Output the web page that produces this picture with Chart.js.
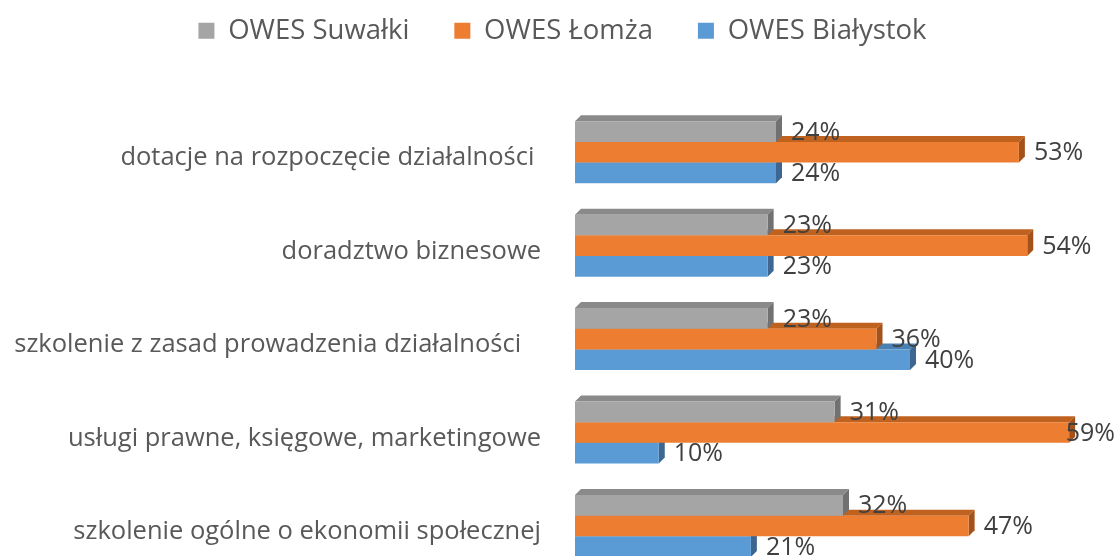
<!DOCTYPE html>
<html>
<head>
<meta charset="utf-8">
<script src="https://cdn.jsdelivr.net/npm/chart.js@4"></script>
<style>
  html, body { margin: 0; padding: 0; overflow: hidden; background: #fff; }
  #wrap { width: 1118px; height: 614px; }
</style>
</head>
<body>
<div id="wrap"><canvas id="chart"></canvas></div>
<script>
// trailing spaces are in the source labels (Excel right-aligns them)
const categories = [
  "dotacje na rozpoczęcie działalności ",
  "doradztwo biznesowe",
  "szkolenie z zasad prowadzenia działalności   ",
  "usługi prawne, księgowe, marketingowe",
  "szkolenie ogólne o ekonomii społecznej"
];
const seriesNames = ["OWES Suwałki", "OWES Łomża", "OWES Białystok"];
const suwalki = [24, 23, 23, 31, 32];
const lomza = [53, 54, 36, 59, 47];
const bialystok = [24, 23, 40, 10, 21];
const xMax = 64;

const faceColors = [
  { front: "#A5A5A5", top: "#8A8A8A", side: "#717171" },
  { front: "#ED7D31", top: "#C0621F", side: "#A5521A" },
  { front: "#5B9BD5", top: "#4A80B2", side: "#3D6791" }
];

const DEPTH = 6;

// fake 3D: top and right faces, drawn behind the fronts (bottom series first)
const depthFaces = {
  id: "depthFaces",
  beforeDatasetsDraw(chart) {
    const ctx = chart.ctx;
    ctx.save();
    for (let d = chart.data.datasets.length - 1; d >= 0; d--) {
      const c = faceColors[d];
      chart.getDatasetMeta(d).data.forEach((bar) => {
        const { x, y, base, height } = bar.getProps(["x", "y", "base", "height"], true);
        const x0 = base, x1 = x, y0 = y - height / 2, y1 = y + height / 2;
        ctx.fillStyle = c.top;
        ctx.beginPath();
        ctx.moveTo(x0, y0);
        ctx.lineTo(x0 + DEPTH, y0 - DEPTH);
        ctx.lineTo(x1 + DEPTH, y0 - DEPTH);
        ctx.lineTo(x1, y0);
        ctx.closePath();
        ctx.fill();
        ctx.fillStyle = c.side;
        ctx.beginPath();
        ctx.moveTo(x1, y0);
        ctx.lineTo(x1 + DEPTH, y0 - DEPTH);
        ctx.lineTo(x1 + DEPTH, y1 - DEPTH);
        ctx.lineTo(x1, y1);
        ctx.closePath();
        ctx.fill();
      });
    }
    ctx.restore();
  }
};

const valueLabels = {
  id: "valueLabels",
  afterDatasetsDraw(chart) {
    const ctx = chart.ctx;
    ctx.save();
    ctx.font = "25px 'Open Sans'";
    ctx.fillStyle = "#404040";
    ctx.textBaseline = "middle";
    ctx.textAlign = "left";
    chart.data.datasets.forEach((ds, d) => {
      chart.getDatasetMeta(d).data.forEach((bar, i) => {
        const text = ds.data[i] + "%";
        const w = ctx.measureText(text).width;
        const tx = Math.min(bar.x + 15, chart.width - 3 - w);
        ctx.fillText(text, tx, bar.y + 1);
      });
    });
    ctx.restore();
  }
};

new Chart(document.getElementById("chart"), {
  type: "bar",
  data: {
    labels: categories,
    datasets: [suwalki, lomza, bialystok].map((values, i) => ({
      label: seriesNames[i],
      data: values,
      backgroundColor: faceColors[i].front,
      borderWidth: 0,
      categoryPercentage: 0.663,
      barPercentage: 1.0
    }))
  },
  options: {
    indexAxis: "y",
    responsive: true,
    maintainAspectRatio: false,
    animation: false,
    layout: { padding: { top: -28, right: 7, left: 14, bottom: -51 } },
    plugins: {
      tooltip: { enabled: false },
      legend: {
        position: "top",
        labels: {
          boxWidth: 16,
          boxHeight: 16,
          padding: 45,
          color: "#595959",
          font: { family: "'Open Sans'", size: 27.5 }
        }
      }
    },
    scales: {
      x: {
        type: "linear",
        position: "top",
        min: 0,
        max: xMax,
        ticks: { display: false },
        grid: { display: false },
        border: { display: false },
        afterFit(s) { s.height = 51; }
      },
      y: {
        ticks: {
          color: "#595959",
          font: { family: "'Open Sans'", size: 25.5 },
          padding: 26,
          labelOffset: 6,
          autoSkip: false
        },
        grid: { display: false },
        border: { display: false },
        afterFit(s) { s.width = 561; }
      }
    }
  },
  plugins: [depthFaces, valueLabels]
});
</script>
</body>
</html>
